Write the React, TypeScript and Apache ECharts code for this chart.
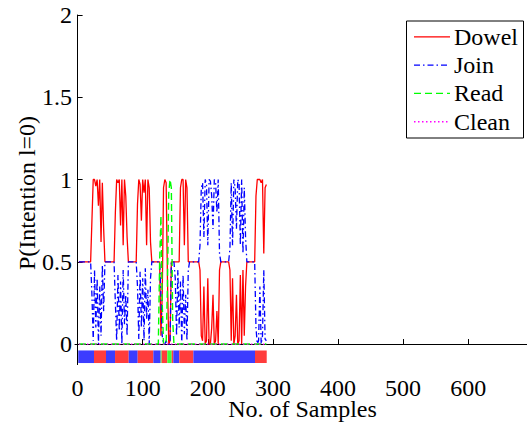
import React, { useEffect, useRef } from "react";
import * as echarts from "echarts";

// Sample axis: values below are read every 2 samples starting at sample 2
const sampleStart = 2;
const sampleStep = 2;

const dowelValues = [
  0.5, 0.5, 0.5, 0.5, 0.5, 0.5, 0.5, 0.5, 0.5, 0.5,
  0.75, 1, 1, 0.96, 1, 0.84, 1, 0.62, 0.98, 0.7,
  0.5, 0.5, 0.5, 0.5, 0.5, 0.5, 0.5, 0.5,
  0.8, 1, 0.98, 1, 0.72, 1, 0.6, 1, 0.9, 0.65,
  0.5, 0.5, 0.5, 0.5, 0.5, 0.5, 0.5,
  0.85, 1, 0.97, 0.75, 1, 0.92, 1, 0.6, 1, 0.95, 0.62,
  0.5, 0.5, 0.5, 0.5, 0.5, 0.5, 0.5,
  0.05, 0.3, 0.95, 1, 0.98, 0.4, 0, 0.02,
  0.5, 0.5, 0.5, 0.5, 0.5, 0.5, 0.5,
  0.95, 1, 1, 0.6, 1, 0.95,
  0.5, 0.5, 0.5, 0.5, 0.5, 0.5, 0.5, 0.5, 0.5,
  0.45, 0.05, 0.02, 0.35, 0, 0.02, 0.4, 0, 0, 0.1, 0.3, 0, 0.02, 0.2, 0, 0.45,
  0.5, 0.5, 0.5, 0.5, 0.5, 0.5, 0.5,
  0.45, 0.02, 0.4, 0, 0.05, 0.3, 0, 0.02, 0.42, 0, 0.45, 0.05, 0.35,
  0.5, 0.5, 0.5, 0.5, 0.5, 0.5, 0.5,
  0.9, 1, 1, 1, 0.98, 1, 0.55, 0.95, 0.97,
];

const joinValues = [
  0.5, 0.5, 0.5, 0.5, 0.5, 0.5, 0.5, 0.5, 0.5, 0.5,
  0.3, 0.02, 0.45, 0.1, 0.4, 0, 0.35, 0.05, 0.48, 0.2,
  0.5, 0.5, 0.5, 0.5, 0.5, 0.5, 0.5, 0.5,
  0.25, 0.02, 0.42, 0.08, 0.38, 0, 0.45, 0.12, 0.3, 0.05,
  0.5, 0.5, 0.5, 0.5, 0.5, 0.5, 0.5,
  0.35, 0.03, 0.44, 0.1, 0.4, 0.02, 0.46, 0.15, 0.33, 0, 0.4,
  0.5, 0.5, 0.5, 0.5, 0.5, 0.5, 0.5,
  0.3, 0.05, 0, 0, 0.02, 0, 0, 0,
  0.5, 0.5, 0.5, 0.4, 0.05, 0.45, 0.1,
  0.38, 0, 0.42, 0.06, 0.3, 0.02,
  0.45, 0.5, 0.5, 0.5, 0.5, 0.5, 0.5, 0.5, 0.5,
  0.6, 0.95, 0.98, 0.65, 1, 0.97, 0.6, 1, 0.99, 0.9, 0.7, 1, 0.98, 0.8, 1, 0.55,
  0.5, 0.5, 0.5, 0.5, 0.5, 0.5, 0.5,
  0.58, 0.98, 0.6, 1, 0.95, 0.7, 1, 0.98, 0.6, 1, 0.55, 0.95, 0.65,
  0.5, 0.5, 0.5, 0.5, 0.5, 0.5, 0.5,
  0.1, 0, 0.02, 0.35, 0, 0.05, 0.45, 0.03, 0.02,
];

// [sample, probability] pairs where the Read curve changes
const readPoints: [number, number][] = [
  [2, 0], [124, 0], [126, 0.5], [128, 0.78], [130, 0.25], [132, 0],
  [136, 0], [138, 0.35], [140, 0.92], [142, 1], [144, 0.95], [146, 0.15],
  [148, 0], [290, 0],
];
const cleanPoints: [number, number][] = [[2, 0], [290, 0]];

// Ground-truth bar segments
const truthStart = [1, 25.2, 43.6, 57.5, 78.5, 92.3, 116.3, 127.6, 129.1, 137.8, 144.5, 147, 156.2, 177.8, 272.5];
const truthEnd = [25.2, 43.6, 57.5, 78.5, 92.3, 116.3, 127.6, 129.1, 137.8, 144.5, 147, 156.2, 177.8, 272.5, 290.5];
const truthLabel = ["Join", "Dowel", "Join", "Dowel", "Join", "Dowel", "Join", "Read", "Dowel", "Read", "Dowel", "Join", "Dowel", "Join", "Dowel"];

const seriesNames = ["Dowel", "Join", "Read", "Clean"];
const seriesColors = ["#ff0000", "#0000ff", "#00ff00", "#ff00ff"];
const xTicks = [0, 100, 200, 300, 400, 500, 600];
const yTicks = [0, 0.5, 1, 1.5, 2];
const xTitle = "No. of Samples";
const yTitle = "P(Intention l=0)";

const truthColors: Record<string, string> = {
  Dowel: "#ff3c3c",
  Join: "#3c3cff",
  Read: "#3cff3c",
};

const FONT = "Liberation Serif";
const FONT_SIZE = 24;
const lineTypes: any[] = ["solid", [6, 3, 1.5, 3], [7, 4], [1.5, 2.5]];
const legendDash: (number[] | null)[] = [null, [6, 3, 1.5, 3], [7, 4], [1.5, 2.5]];

export default function App() {
  const ref = useRef<HTMLDivElement>(null);
  useEffect(() => {
    if (!ref.current) return;
    const chart = echarts.init(ref.current, undefined, { renderer: "svg" });
    const toPairs = (vals: number[]) => vals.map((v, i) => [sampleStart + i * sampleStep, v]);
    const segData = truthStart.map((s, i) => [s, truthEnd[i], i]);
    const barTop = -0.039;
    const barBottom = -0.1155;

    chart.setOption({
      animation: false,
      backgroundColor: "#ffffff",
      grid: {
        left: 75,
        top: 15,
        bottom: 58.4,
        right: -6.3,
        containLabel: false,
        outerBoundsMode: "none",
      },
      xAxis: {
        type: "value",
        min: -4,
        max: 700,
        axisLine: { show: true, lineStyle: { color: "#000", width: 1 } },
        axisTick: { show: true, inside: true, length: 5, customValues: xTicks, lineStyle: { color: "#000" } },
        axisLabel: { show: false },
        splitLine: { show: false },
      },
      yAxis: {
        type: "value",
        min: -0.125,
        max: 2,
        axisLine: { show: true, lineStyle: { color: "#000", width: 1 } },
        axisTick: { show: true, inside: true, length: 5, customValues: yTicks, lineStyle: { color: "#000" } },
        axisLabel: { show: false },
        splitLine: { show: false },
      },
      series: [
        {
          type: "custom",
          name: "truth",
          silent: true,
          data: segData,
          encode: { x: [0, 1] },
          renderItem: (_params: any, api: any) => {
            const p0 = api.coord([api.value(0), barTop]);
            const p1 = api.coord([api.value(1), barBottom]);
            const label = truthLabel[api.value(2)];
            return {
              type: "rect",
              shape: { x: p0[0], y: p0[1], width: p1[0] - p0[0], height: p1[1] - p0[1] },
              style: { fill: truthColors[label] },
            };
          },
        },
        {
          type: "line",
          name: "Dowel",
          data: toPairs(dowelValues),
          symbol: "none",
          showSymbol: false,
          lineStyle: { color: seriesColors[0], width: 1.3, type: lineTypes[0] },
        },
        {
          type: "line",
          name: "Join",
          data: toPairs(joinValues),
          symbol: "none",
          showSymbol: false,
          lineStyle: { color: seriesColors[1], width: 1.3, type: lineTypes[1] },
        },
        {
          type: "line",
          name: "Read",
          data: readPoints,
          symbol: "none",
          showSymbol: false,
          lineStyle: { color: seriesColors[2], width: 1.4, type: lineTypes[2] },
        },
        {
          type: "line",
          name: "Clean",
          data: cleanPoints,
          symbol: "none",
          showSymbol: false,
          lineStyle: { color: seriesColors[3], width: 1.2, type: lineTypes[3] },
        },
      ],
    });

    // Texts drawn as graphic texts (serif font), placed through the axes' scales
    const px = (x: number, y: number) => chart.convertToPixel({ gridIndex: 0 }, [x, y]) as number[];
    const origin = px(0, 0);
    const textStyle = (text: string, align: string) => ({
      text,
      fontFamily: FONT,
      fontSize: FONT_SIZE,
      lineHeight: 20,
      fill: "#000",
      align,
      verticalAlign: "middle",
    });
    const g: any[] = [];
    xTicks.forEach((t) => {
      const p = px(t, 0);
      g.push({ type: "text", x: p[0], y: 388, silent: true, style: textStyle(String(t), "center") });
    });
    yTicks.forEach((t) => {
      const p = px(0, t);
      g.push({ type: "text", x: origin[0] - 5.5, y: p[1], silent: true, style: textStyle(String(t), "right") });
    });
    g.push({ type: "text", x: 302.5, y: 408.5, silent: true, style: textStyle(xTitle, "center") });
    g.push({
      type: "text",
      x: 27,
      y: 193,
      rotation: Math.PI / 2,
      silent: true,
      style: textStyle(yTitle, "center"),
    });

    // Legend box
    const legLeft = 406.5;
    const legTop = 21;
    const rowY0 = 36.8;
    const rowStep = 28.3;
    g.push({
      type: "rect",
      silent: true,
      z: 100,
      shape: { x: legLeft, y: legTop, width: 117, height: 117 },
      style: { fill: "#fff", stroke: "#000", lineWidth: 1 },
    });
    seriesNames.forEach((n, i) => {
      const y = rowY0 + i * rowStep;
      g.push({
        type: "line",
        silent: true,
        z: 101,
        shape: { x1: legLeft + 7.5, y1: y, x2: legLeft + 43.5, y2: y },
        style: {
          stroke: seriesColors[i],
          lineWidth: i === 3 ? 1.5 : 1.2,
          lineDash: legendDash[i] || undefined,
        },
      });
      g.push({
        type: "text",
        silent: true,
        z: 101,
        x: legLeft + 47.5,
        y: y,
        style: textStyle(n, "left"),
      });
    });
    chart.setOption({ graphic: g });

    return () => chart.dispose();
  }, []);
  return (
    <div
      ref={ref}
      style={{ position: "fixed", left: 0, top: 0, width: 527, height: 423, background: "#fff" }}
    />
  );
}
